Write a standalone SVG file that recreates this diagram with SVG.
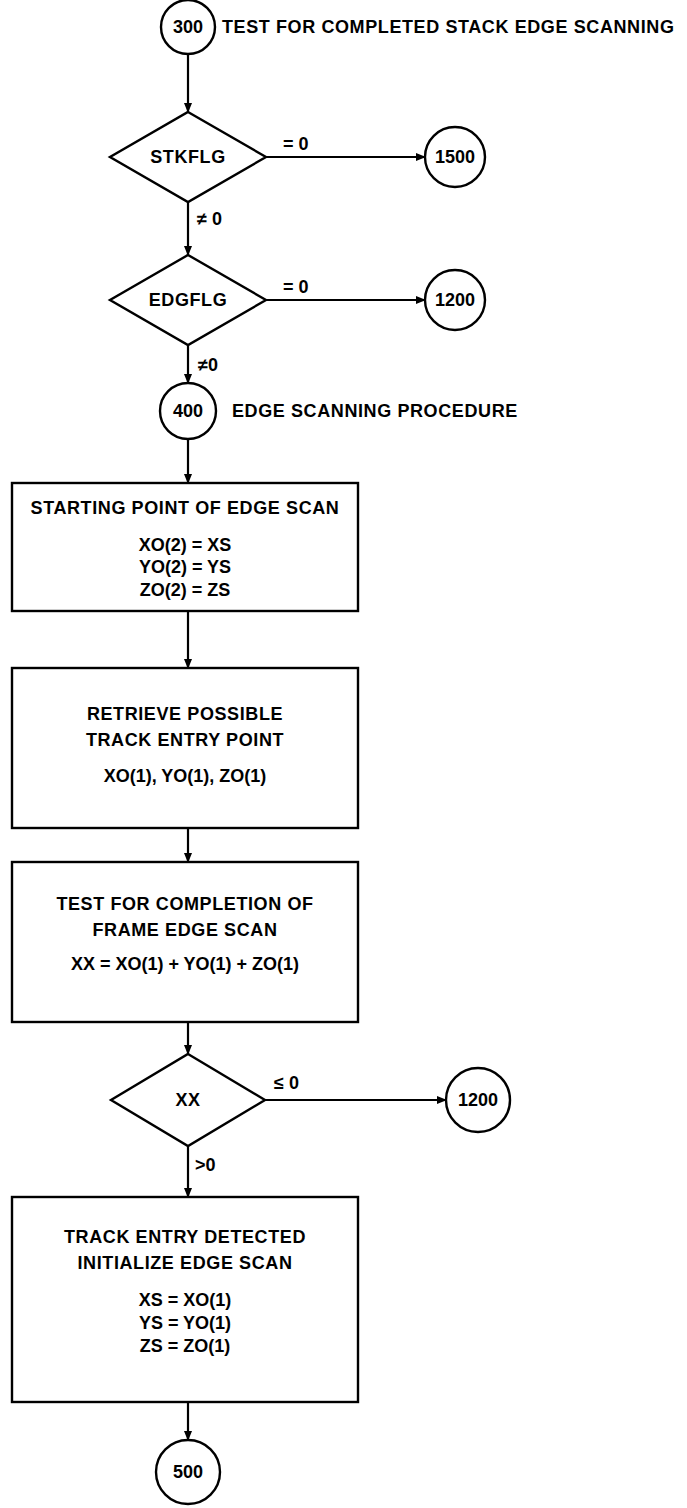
<svg xmlns="http://www.w3.org/2000/svg" width="687" height="1508" viewBox="0 0 687 1508">
<defs>
<marker id="ah" markerWidth="10" markerHeight="8" refX="9" refY="4" orient="auto" markerUnits="userSpaceOnUse">
<path d="M0,0 L10,4 L0,8 Z" fill="#000"/>
</marker>
<style>
.s{fill:#fff;stroke:#000;stroke-width:2.4}
.c{fill:none;stroke:#000;stroke-width:2.2}
text{font-family:"Liberation Sans",Arial,sans-serif;font-weight:bold;font-size:18px;fill:#000}
.m{text-anchor:middle}
.b{letter-spacing:0.6px}
</style>
</defs>
<rect width="687" height="1508" fill="#fff"/>
<g id="connectors">
<line class="c" x1="188" y1="54" x2="188" y2="112" marker-end="url(#ah)"/>
<line class="c" x1="266" y1="157" x2="425" y2="157" marker-end="url(#ah)"/>
<line class="c" x1="188" y1="202" x2="188" y2="255" marker-end="url(#ah)"/>
<line class="c" x1="266" y1="300" x2="425" y2="300" marker-end="url(#ah)"/>
<line class="c" x1="188" y1="345" x2="188" y2="383" marker-end="url(#ah)"/>
<line class="c" x1="188" y1="439" x2="188" y2="483" marker-end="url(#ah)"/>
<line class="c" x1="188" y1="611" x2="188" y2="668" marker-end="url(#ah)"/>
<line class="c" x1="188" y1="828" x2="188" y2="862" marker-end="url(#ah)"/>
<line class="c" x1="188" y1="1022" x2="188" y2="1054" marker-end="url(#ah)"/>
<line class="c" x1="265" y1="1100" x2="446" y2="1100" marker-end="url(#ah)"/>
<line class="c" x1="188" y1="1146" x2="188" y2="1197" marker-end="url(#ah)"/>
<line class="c" x1="188" y1="1402" x2="188" y2="1440" marker-end="url(#ah)"/>
<text x="283" y="150">= 0</text>
<text x="197" y="225">≠ 0</text>
<text x="283" y="293">= 0</text>
<text x="198" y="371">≠0</text>
<text x="274" y="1089">≤ 0</text>
<text x="195" y="1171">&gt;0</text>
</g>
<g id="n300">
<circle class="s" cx="188" cy="27" r="27"/>
<text class="m" x="188" y="33">300</text>
<text class="b" x="222" y="33">TEST FOR COMPLETED STACK EDGE SCANNING</text>
</g>
<g id="stkflg">
<polygon class="s" points="188,112 266,157 188,202 110,157"/>
<text class="m b" x="188" y="163">STKFLG</text>
</g>
<g id="n1500">
<circle class="s" cx="455" cy="157" r="30"/>
<text class="m" x="455" y="163">1500</text>
</g>
<g id="edgflg">
<polygon class="s" points="188,255 266,300 188,345 110,300"/>
<text class="m b" x="188" y="306">EDGFLG</text>
</g>
<g id="n1200a">
<circle class="s" cx="455" cy="300" r="30"/>
<text class="m" x="455" y="306">1200</text>
</g>
<g id="n400">
<circle class="s" cx="188" cy="411" r="28"/>
<text class="m" x="188" y="417">400</text>
<text class="b" x="232" y="417">EDGE SCANNING PROCEDURE</text>
</g>
<g id="box1">
<rect class="s" x="12" y="483" width="346" height="128"/>
<text class="m b" x="185" y="514">STARTING POINT OF EDGE SCAN</text>
<text class="m" x="185" y="551">XO(2) = XS</text>
<text class="m" x="185" y="573">YO(2) = YS</text>
<text class="m" x="185" y="596">ZO(2) = ZS</text>
</g>
<g id="box2">
<rect class="s" x="12" y="668" width="346" height="160"/>
<text class="m b" x="185" y="720">RETRIEVE POSSIBLE</text>
<text class="m b" x="185" y="746">TRACK ENTRY POINT</text>
<text class="m" x="185" y="782">XO(1), YO(1), ZO(1)</text>
</g>
<g id="box3">
<rect class="s" x="12" y="862" width="346" height="160"/>
<text class="m b" x="185" y="910">TEST FOR COMPLETION OF</text>
<text class="m b" x="185" y="936">FRAME EDGE SCAN</text>
<text class="m" x="185" y="970">XX = XO(1) + YO(1) + ZO(1)</text>
</g>
<g id="xx">
<polygon class="s" points="188,1054 265,1100 188,1146 111,1100"/>
<text class="m b" x="188" y="1106">XX</text>
</g>
<g id="n1200b">
<circle class="s" cx="478" cy="1100" r="32"/>
<text class="m" x="478" y="1106">1200</text>
</g>
<g id="box4">
<rect class="s" x="12" y="1197" width="346" height="205"/>
<text class="m b" x="185" y="1243">TRACK ENTRY DETECTED</text>
<text class="m b" x="185" y="1269">INITIALIZE EDGE SCAN</text>
<text class="m" x="185" y="1306">XS = XO(1)</text>
<text class="m" x="185" y="1329">YS = YO(1)</text>
<text class="m" x="185" y="1352">ZS = ZO(1)</text>
</g>
<g id="n500">
<circle class="s" cx="188" cy="1472" r="32"/>
<text class="m" x="188" y="1478">500</text>
</g>
</svg>
